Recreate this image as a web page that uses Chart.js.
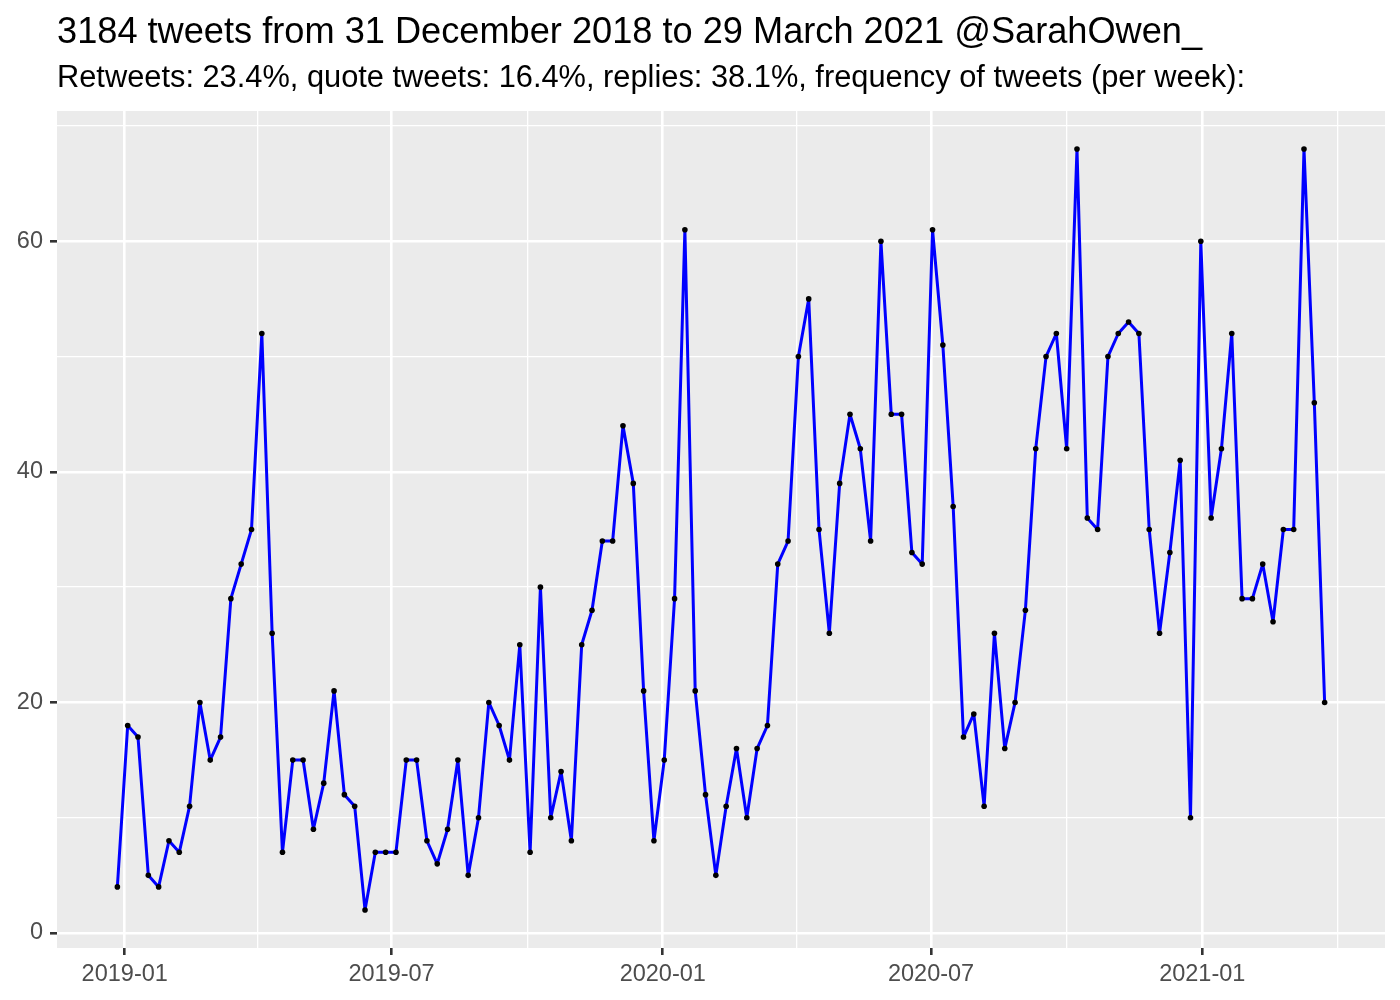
<!DOCTYPE html>
<html>
<head>
<meta charset="utf-8">
<script src="https://cdn.jsdelivr.net/npm/chart.js@4.4.1/dist/chart.umd.min.js"></script>
<style>
  body { margin: 0; background: #fff; }
  #wrap { width: 1400px; height: 1000px; }
</style>
</head>
<body>
<div id="wrap"><canvas id="chart"></canvas></div>
<script>
// weekly tweet counts, @SarahOwen_
const titleText = '3184 tweets from 31 December 2018 to 29 March 2021 @SarahOwen_';
const subtitleText = 'Retweets: 23.4%, quote tweets: 16.4%, replies: 38.1%, frequency of tweets (per week):';

const firstWeek = '2018-12-27';
const weeklyTweets = [
    4, 18, 17, 5, 4, 8, 7, 11, 20, 15,
    17, 29, 32, 35, 52, 26, 7, 15, 15, 9,
    13, 21, 12, 11, 2, 7, 7, 7, 15, 15,
    8, 6, 9, 15, 5, 10, 20, 18, 15, 25,
    7, 30, 10, 14, 8, 25, 28, 34, 34, 44,
    39, 21, 8, 15, 29, 61, 21, 12, 5, 11,
    16, 10, 16, 18, 32, 34, 50, 55, 35, 26,
    39, 45, 42, 34, 60, 45, 45, 33, 32, 61,
    51, 37, 17, 19, 11, 26, 16, 20, 28, 42,
    50, 52, 42, 68, 36, 35, 50, 52, 53, 52,
    35, 26, 33, 41, 10, 60, 36, 42, 52, 29,
    29, 32, 27, 35, 35, 68, 46, 20
];

const xTickDates = ['2019-01-01', '2019-07-01', '2020-01-01', '2020-07-01', '2021-01-01'];
const xTickLabels = ['2019-01', '2019-07', '2020-01', '2020-07', '2021-01'];
const yTickValues = [0, 20, 40, 60];

const DAY = 86400000;
const origin = Date.parse('2019-01-01T00:00:00Z');
const toDays = s => (Date.parse(s + 'T00:00:00Z') - origin) / DAY;

const start = toDays(firstWeek);
const points = weeklyTweets.map((v, i) => ({ x: start + i * 7, y: v }));

// ggplot style 5% expansion
const xLo = points[0].x, xHi = points[points.length - 1].x;
const yLo = Math.min(...weeklyTweets), yHi = Math.max(...weeklyTweets);
const xPad = (xHi - xLo) * 0.05, yPad = (yHi - yLo) * 0.05;

const xMajor = xTickDates.map(toDays);
const xMinor = [];
for (let i = 0; i < xMajor.length - 1; i++) xMinor.push((xMajor[i] + xMajor[i + 1]) / 2);
xMinor.push(xMajor[xMajor.length - 1] + (xMajor[xMajor.length - 1] - xMajor[xMajor.length - 2]) / 2);
const yMinor = [10, 30, 50, 70];

const isMajorX = v => xMajor.some(m => Math.abs(m - v) < 0.01);
const isMajorY = v => yTickValues.includes(v);

Chart.defaults.font.family = '"Liberation Sans", Arial, sans-serif';

const panelBg = {
    id: 'panelBg',
    beforeDraw(chart) {
        const { ctx, chartArea: a } = chart;
        ctx.save();
        ctx.fillStyle = '#EBEBEB';
        ctx.fillRect(a.left, a.top, a.right - a.left, a.bottom - a.top);
        ctx.restore();
    },
    afterDraw(chart) {
        const { ctx, chartArea: a } = chart;
        ctx.save();
        ctx.fillStyle = '#000';
        ctx.textAlign = 'left';
        ctx.textBaseline = 'alphabetic';
        ctx.font = '36.2px "Liberation Sans", Arial, sans-serif';
        ctx.fillText(titleText, a.left, 43);
        ctx.font = '30.8px "Liberation Sans", Arial, sans-serif';
        ctx.fillText(subtitleText, a.left, 87);
        ctx.restore();
    }
};

new Chart(document.getElementById('chart'), {
    type: 'line',
    data: {
        datasets: [{
            data: points,
            borderColor: '#0000FF',
            borderWidth: 3,
            borderJoinStyle: 'round',
            borderCapStyle: 'round',
            pointRadius: 2.8,
            pointBackgroundColor: '#000',
            pointBorderWidth: 0,
            tension: 0
        }]
    },
    options: {
        responsive: true,
        maintainAspectRatio: false,
        animation: false,
        devicePixelRatio: 1,
        layout: { padding: { top: 111, right: 15, left: 0, bottom: 0 } },
        plugins: { legend: { display: false }, tooltip: { enabled: false }, title: { display: false } },
        scales: {
            x: {
                type: 'linear',
                min: xLo - xPad,
                max: xHi + xPad,
                afterBuildTicks: axis => {
                    axis.ticks = [...xMajor, ...xMinor].sort((a, b) => a - b).map(v => ({ value: v }));
                },
                afterFit: axis => { axis.height = 52; },
                border: { display: false },
                grid: {
                    color: '#FFFFFF',
                    lineWidth: c => (c.tick && isMajorX(c.tick.value)) ? 2.6 : 1.3,
                    tickColor: c => (c.tick && isMajorX(c.tick.value)) ? '#333333' : 'rgba(0,0,0,0)',
                    tickWidth: 2.6,
                    tickLength: 7,
                    drawTicks: true
                },
                ticks: {
                    autoSkip: false,
                    maxRotation: 0,
                    minRotation: 0,
                    padding: 5,
                    color: '#4D4D4D',
                    font: { size: 23.5 },
                    callback: v => {
                        const i = xMajor.findIndex(m => Math.abs(m - v) < 0.01);
                        return i >= 0 ? xTickLabels[i] : '';
                    }
                }
            },
            y: {
                type: 'linear',
                min: yLo - yPad,
                max: yHi + yPad,
                afterBuildTicks: axis => {
                    axis.ticks = [...yTickValues, ...yMinor].sort((a, b) => a - b).map(v => ({ value: v }));
                },
                afterFit: axis => { axis.width = 57; },
                border: { display: false },
                grid: {
                    color: '#FFFFFF',
                    lineWidth: c => (c.tick && isMajorY(c.tick.value)) ? 2.6 : 1.3,
                    tickColor: c => (c.tick && isMajorY(c.tick.value)) ? '#333333' : 'rgba(0,0,0,0)',
                    tickWidth: 2.6,
                    tickLength: 7,
                    drawTicks: true
                },
                ticks: {
                    autoSkip: false,
                    padding: 7,
                    color: '#4D4D4D',
                    font: { size: 23.5 },
                    callback: v => isMajorY(v) ? String(v) : ''
                }
            }
        }
    },
    plugins: [panelBg]
});
</script>
</body>
</html>
